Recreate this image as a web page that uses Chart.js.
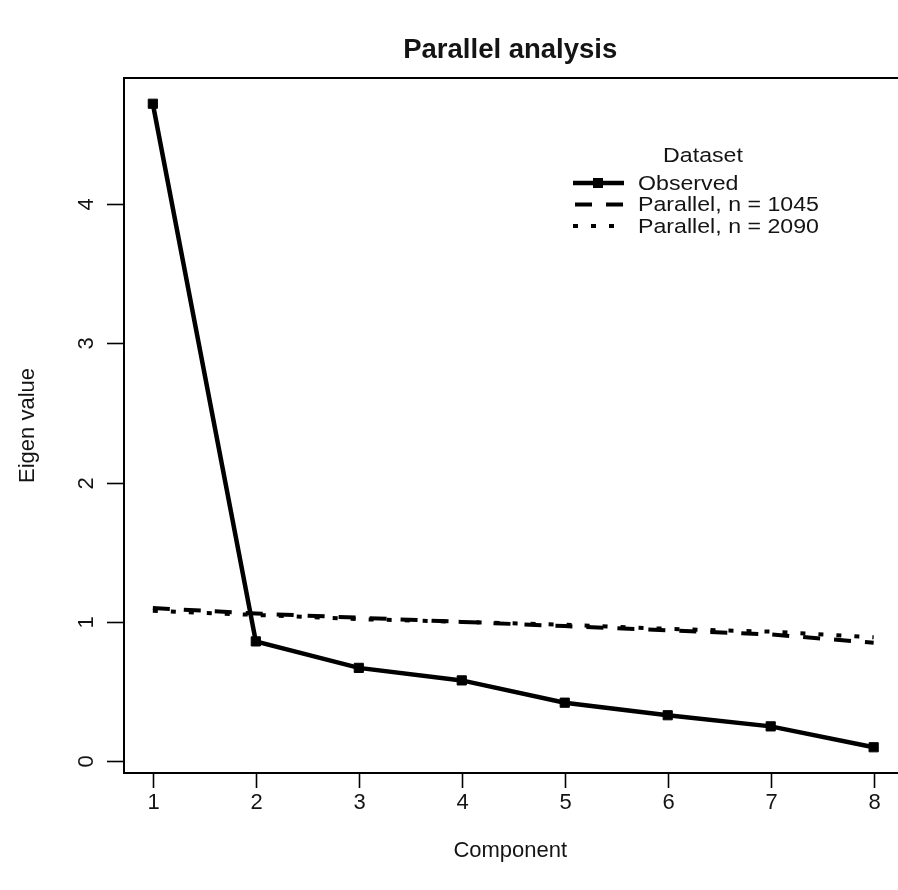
<!DOCTYPE html>
<html><head><meta charset="utf-8">
<script src="https://cdn.jsdelivr.net/npm/chart.js@4.4.0/dist/chart.umd.min.js"></script>
<style>html,body{margin:0;padding:0;background:#fff;overflow:hidden;} #wrap{width:910px;height:890px;}</style>
</head><body><div id="wrap"><canvas id="c" width="910" height="890" style="width:910px;height:890px"></canvas></div>
<script>
const components = [1, 2, 3, 4, 5, 6, 7, 8];
const observed = [4.72, 0.86, 0.67, 0.58, 0.42, 0.33, 0.25, 0.10];
const parallel1045 = [1.10, 1.06, 1.03, 1.00, 0.97, 0.94, 0.91, 0.85];
const parallel2090 = [1.08, 1.05, 1.02, 1.00, 0.98, 0.95, 0.93, 0.89];
const xTicks = [1, 2, 3, 4, 5, 6, 7, 8];
const yTicks = [0, 1, 2, 3, 4];
const seriesLabels = ['Observed', 'Parallel, n = 1045', 'Parallel, n = 2090'];
const legendTitle = 'Dataset';
const chartTitle = 'Parallel analysis';
const xTitle = 'Component';
const yTitle = 'Eigen value';

const FONT = '"Liberation Sans", Arial, sans-serif';
const TXT = '#141414';

function pts(vals) { return components.map((c, i) => ({ x: c, y: vals[i] })); }
const allY = observed.concat(parallel1045, parallel2090);
const yLo = Math.min(...allY), yHi = Math.max(...allY);
const yExt = 0.04 * (yHi - yLo);
const xLo = Math.min(...components), xHi = Math.max(...components);
const xExt = 0.04 * (xHi - xLo);

function wideText(ctx, s, x, y, sx) {
  ctx.save(); ctx.translate(x, y); ctx.scale(sx, 1); ctx.fillText(s, 0, 0); ctx.restore();
}

const decor = {
  id: 'decor',
  afterDraw(chart) {
    const ctx = chart.ctx, a = chart.chartArea;
    const xs = chart.scales.x, ys = chart.scales.y;
    ctx.save();
    ctx.strokeStyle = '#000';
    ctx.lineWidth = 2;
    ctx.setLineDash([]);
    ctx.strokeRect(a.left, a.top, a.right - a.left, a.bottom - a.top);
    ctx.lineWidth = 1.6;
    ctx.fillStyle = TXT;
    ctx.font = '22px ' + FONT;
    ctx.textAlign = 'center';
    ctx.textBaseline = 'middle';
    xTicks.forEach(v => {
      const px = Math.round(xs.getPixelForValue(v)) + 0.5;
      ctx.beginPath(); ctx.moveTo(px, a.bottom); ctx.lineTo(px, a.bottom + 15); ctx.stroke();
      ctx.fillText(String(v), px, a.bottom + 30);
    });
    yTicks.forEach(v => {
      const py = Math.round(ys.getPixelForValue(v)) + 0.5;
      ctx.beginPath(); ctx.moveTo(a.left - 17, py); ctx.lineTo(a.left, py); ctx.stroke();
      ctx.save(); ctx.translate(a.left - 37, py); ctx.rotate(-Math.PI / 2);
      ctx.fillText(String(v), 0, 0); ctx.restore();
    });
    // axis titles
    ctx.fillText(xTitle, (a.left + a.right) / 2 - 3, a.bottom + 78);
    ctx.save(); ctx.translate(28, (a.top + a.bottom) / 2); ctx.rotate(-Math.PI / 2);
    ctx.fillText(yTitle, 0, 0); ctx.restore();
    // title
    ctx.font = 'bold 27.5px ' + FONT;
    ctx.fillText(chartTitle, (a.left + a.right) / 2 - 3, 50);
    // legend
    ctx.font = '20.5px ' + FONT;
    wideText(ctx, legendTitle, 703, 156, 1.13);
    ctx.textAlign = 'left';
    chart.data.datasets.forEach((ds, i) => {
      const ly = 183 + 21.5 * i;
      ctx.strokeStyle = ds.borderColor;
      ctx.lineWidth = ds.borderWidth;
      ctx.setLineDash(ds.borderDash || []);
      ctx.lineDashOffset = ds.legendDashOffset || 0;
      ctx.beginPath(); ctx.moveTo(573, ly); ctx.lineTo(624, ly); ctx.stroke();
      ctx.setLineDash([]);
      if (ds.pointRadius > 0) {
        ctx.fillStyle = ds.pointBackgroundColor;
        ctx.fillRect(598 - 5, ly - 5, 10, 10);
      }
      ctx.fillStyle = TXT;
      wideText(ctx, ds.label, 638, ly + 1, 1.13);
    });
    ctx.restore();
  }
};

new Chart(document.getElementById('c'), {
  type: 'line',
  data: {
    datasets: [
      { label: seriesLabels[0], data: pts(observed), borderColor: '#000', borderWidth: 4.5,
        pointStyle: 'rect', pointRadius: 6.5, pointBorderWidth: 1, pointBackgroundColor: '#000', pointBorderColor: '#000',
        tension: 0 },
      { label: seriesLabels[1], data: pts(parallel1045), borderColor: '#000', borderWidth: 4,
        borderDash: [17, 14], pointRadius: 0, tension: 0, legendDashOffset: -2 },
      { label: seriesLabels[2], data: pts(parallel2090), borderColor: '#000', borderWidth: 4,
        borderDash: [5, 13], pointRadius: 0, tension: 0, legendDashOffset: 0 }
    ]
  },
  options: {
    responsive: false,
    animation: false,
    layout: { padding: { left: 124, right: 2, top: 78, bottom: 117 } },
    plugins: { legend: { display: false }, tooltip: { enabled: false }, title: { display: false } },
    scales: {
      x: { type: 'linear', display: false, min: xLo - xExt, max: xHi + xExt },
      y: { type: 'linear', display: false, min: yLo - yExt, max: yHi + yExt }
    }
  },
  plugins: [decor]
});
</script>
</body></html>
